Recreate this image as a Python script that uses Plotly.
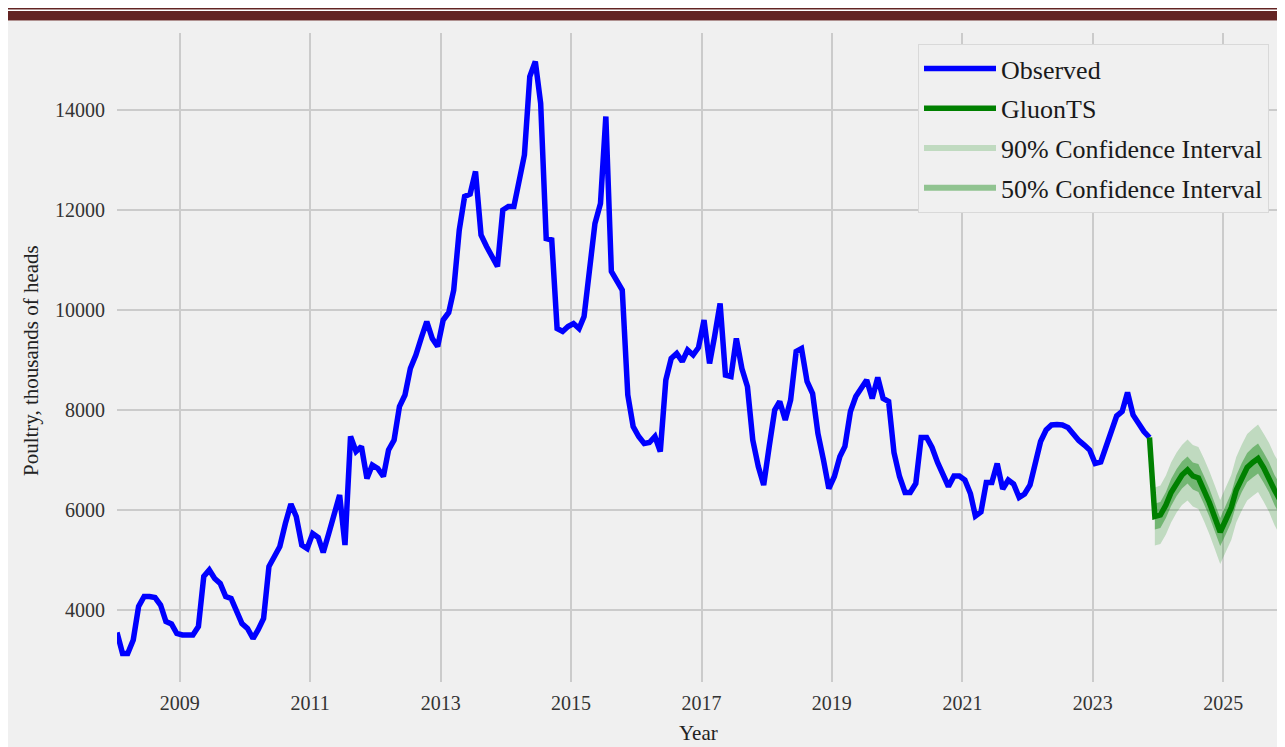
import pandas as pd
import plotly.graph_objects as go

# ---------------- data (monthly, thousands of heads) ----------------
observed = [
    3550, 3130, 3130, 3400, 4070, 4270, 4270, 4250, 4100, 3770,
    3720, 3530, 3500, 3510, 3500, 3670, 4670, 4800, 4630, 4530,
    4270, 4230, 4000, 3730, 3630, 3430, 3600, 3830, 4870, 5070,
    5270, 5730, 6120, 5870, 5300, 5230, 5530, 5450, 5150, 5530,
    5870, 6300, 5300, 7470, 7170, 7270, 6630, 6900, 6830, 6670,
    7200, 7400, 8070, 8300, 8830, 9100, 9450, 9770, 9430, 9270,
    9800, 9950, 10400, 11600, 12270, 12320, 12770, 11500, 11270, 11070,
    10870, 12000, 12070, 12070, 12600, 13100, 14670, 14970, 14130, 11430,
    11400, 9630, 9570, 9670, 9730, 9630, 9870, 10730, 11730, 12130,
    13870, 10770, 10570, 10400, 8300, 7670, 7470, 7330, 7350, 7470,
    7170, 8600, 9030, 9130, 8970, 9200, 9100, 9250, 9800, 8930,
    9470, 10130, 8700, 8670, 9430, 8830, 8470, 7400, 6870, 6500,
    7270, 8000, 8170, 7800, 8200, 9170, 9230, 8570, 8330, 7530,
    7000, 6430, 6670, 7070, 7270, 7970, 8270, 8430, 8600, 8230,
    8650, 8230, 8170, 7150, 6670, 6350, 6350, 6530, 7450, 7450,
    7250, 6950, 6730, 6470, 6680, 6680, 6600, 6330, 5880, 5960,
    6550, 6550, 6930, 6420, 6600, 6520, 6250, 6320, 6500, 6970,
    7370, 7600, 7700, 7710, 7700, 7650, 7500, 7390, 7300, 7200,
    6930, 6960, 7250, 7610, 7880, 7970, 8350, 7900, 7730, 7570,
    7450,
]

forecast_median = [
    5870, 5900, 6100, 6350, 6550, 6700, 6800, 6680, 6640, 6400,
    6150, 5850, 5560, 5800, 6050, 6400, 6650, 6850, 6950, 7030,
    6850, 6650, 6400, 6200,
]
upper_90 = [
    6450, 6490, 6690, 6950, 7150, 7300, 7410, 7300, 7260, 7030,
    6780, 6490, 6200, 6450, 6700, 7060, 7310, 7520, 7620, 7710,
    7530, 7340, 7100, 6910,
]
lower_90 = [
    5290, 5320, 5510, 5750, 5950, 6100, 6190, 6070, 6020, 5780,
    5520, 5220, 4920, 5160, 5400, 5750, 5990, 6190, 6280, 6360,
    6170, 5960, 5700, 5490,
]
upper_50 = [
    6130, 6160, 6360, 6620, 6820, 6970, 7070, 6950, 6920, 6680,
    6430, 6130, 5840, 6090, 6340, 6690, 6940, 7140, 7250, 7330,
    7150, 6950, 6700, 6510,
]
lower_50 = [
    5610, 5640, 5840, 6080, 6280, 6430, 6530, 6410, 6360, 6120,
    5870, 5570, 5280, 5510, 5760, 6110, 6360, 6560, 6650, 6730,
    6550, 6350, 6100, 5890,
]

obs_dates = pd.date_range("2008-01-01", periods=len(observed), freq="MS") + pd.Timedelta(days=14)
fc_dates = pd.date_range("2023-12-01", periods=len(forecast_median), freq="MS") + pd.Timedelta(days=14)

# ---------------- layout geometry ----------------
# The page body keeps an 8 px margin, so the figure starts 8 px right/down
# of the screen origin; screen pixel p maps to figure pixel p - 8.
OFF = 8
W, H = 1285 - OFF, 747 - OFF
L, R, T, B = 117 - OFF, 5, 33 - OFF, 65
PW, PH = W - L - R, H - T - B


def px_x(p):
    """screen x pixel -> paper x"""
    return (p - OFF - L) / PW


def px_y(p):
    """screen y pixel -> paper y"""
    return (H - B - (p - OFF)) / PH


BG = "#f0f0f0"
GRID = "#cbcbcb"
SERIF = "Liberation Serif, Times New Roman, serif"

fig = go.Figure()

band_x = list(fc_dates) + list(fc_dates[::-1])

fig.add_trace(go.Scatter(
    x=band_x, y=upper_90 + lower_90[::-1], fill="toself",
    fillcolor="rgba(0,128,0,0.2)", line=dict(width=0), mode="none",
    name="90% Confidence Interval", legendrank=3, legendgroup="c90",
    hoverinfo="skip"))
fig.add_trace(go.Scatter(
    x=band_x, y=upper_50 + lower_50[::-1], fill="toself",
    fillcolor="rgba(0,128,0,0.4)", line=dict(width=0), mode="none",
    name="50% Confidence Interval", legendrank=4, legendgroup="c50",
    hoverinfo="skip"))
fig.add_trace(go.Scatter(
    x=obs_dates, y=observed, mode="lines", name="Observed",
    line=dict(color="#0000ff", width=5.5), legendrank=1, legendgroup="obs"))
fig.add_trace(go.Scatter(
    x=[obs_dates[-1]] + list(fc_dates), y=[observed[-1]] + forecast_median,
    mode="lines", name="GluonTS",
    line=dict(color="#008000", width=5.5), legendrank=2, legendgroup="gts"))

shapes = [
    # white band at the top of the page
    dict(type="rect", xref="paper", yref="paper", x0=px_x(0), x1=px_x(1300),
         y0=px_y(21), y1=px_y(0), fillcolor="white", line=dict(width=0), layer="above"),
    # dark red double rule of the page header
    dict(type="rect", xref="paper", yref="paper", x0=px_x(0), x1=px_x(1300),
         y0=px_y(9.5), y1=px_y(7.2), fillcolor="#632423", line=dict(width=0), layer="above"),
    dict(type="rect", xref="paper", yref="paper", x0=px_x(0), x1=px_x(1300),
         y0=px_y(20.5), y1=px_y(11), fillcolor="#632423", line=dict(width=0), layer="above"),
]

annotations = [
    dict(text="Year", xref="paper", yref="paper", x=px_x(698), y=px_y(733),
         xanchor="center", yanchor="middle", showarrow=False,
         font=dict(family=SERIF, size=21, color="#222222")),
    dict(text="Poultry, thousands of heads", xref="paper", yref="paper",
         x=px_x(31), y=px_y(361), textangle=-90,
         xanchor="center", yanchor="middle", showarrow=False,
         font=dict(family=SERIF, size=21, color="#222222")),
]

fig.update_layout(
    width=W, height=H,
    margin=dict(l=L, r=R, t=T, b=B, pad=0, autoexpand=False),
    paper_bgcolor=BG, plot_bgcolor=BG,
    font=dict(family=SERIF, color="#333333", size=20),
    showlegend=True,
    legend=dict(
        x=px_x(1269), y=px_y(44), xanchor="right", yanchor="top",
        bgcolor=BG, bordercolor="#d9d9d9", borderwidth=1,
        font=dict(family=SERIF, size=26, color="#1a1a1a"),
        tracegroupgap=3, itemwidth=72,
    ),
    shapes=shapes,
    annotations=annotations,
    xaxis=dict(
        type="date", automargin=False,
        range=[obs_dates[0], fc_dates[-1]],
        tick0="2009-01-01", dtick="M24", tickformat="%Y",
        showgrid=True, gridcolor=GRID, gridwidth=1.5,
        zeroline=False, showline=False,
        ticks="outside", ticklen=3, tickcolor="rgba(0,0,0,0)",
        tickfont=dict(family=SERIF, size=20, color="#333333"),
    ),
    yaxis=dict(
        automargin=False,
        range=[2560, 15540],
        tick0=0, dtick=2000, tickformat="d",
        showgrid=True, gridcolor=GRID, gridwidth=1.5,
        zeroline=False, showline=False,
        ticks="outside", ticklen=7, tickcolor="rgba(0,0,0,0)",
        tickfont=dict(family=SERIF, size=20, color="#333333"),
    ),
)

fig.write_html("out.html")
